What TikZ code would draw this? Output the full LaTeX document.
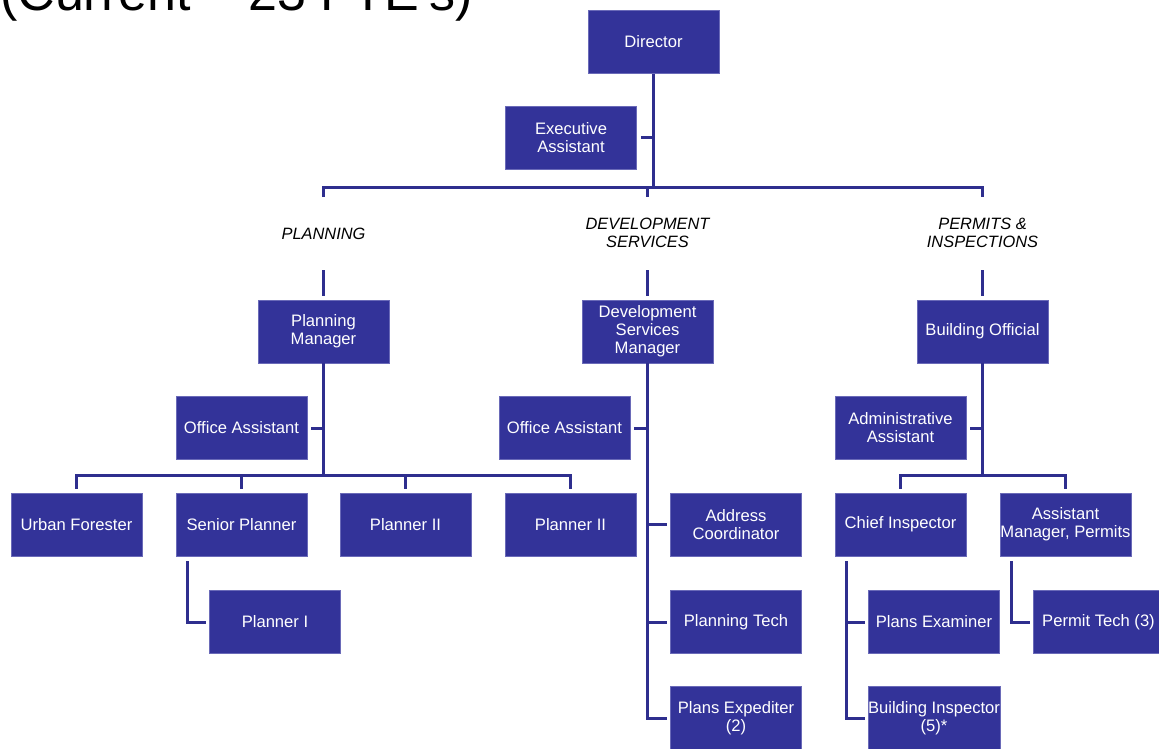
\documentclass[tikz,border=0pt]{standalone}
\usepackage{fontspec}
\setmainfont{Liberation Sans}
\definecolor{boxblue}{HTML}{333399}
\definecolor{boxedge}{HTML}{6A6AB8}
\definecolor{linkblue}{HTML}{2E2E8E}
\begin{document}
\begin{tikzpicture}[x=1pt,y=-1pt,
  box/.style={fill=boxblue, draw=boxedge, line width=0.8pt,
    minimum width=131pt, minimum height=63pt, inner sep=0pt,
    align=center, text=white, font=\fontsize{16.6}{18}\selectfont},
  link/.style={draw=linkblue, line width=3pt, line join=miter},
  unit/.style={inner sep=0pt, align=center,
    font=\fontsize{16.4}{18}\selectfont\itshape}]
\useasboundingbox (0,0) rectangle (1159,749);
\clip (0,0) rectangle (1159,749);

% heading, running off the top of the page
\node[anchor=base west, inner sep=0pt, font=\fontsize{52}{60}\selectfont]
  (title) at (0,11) {(Current – 23 FTE’s)};

% top level
\node[box] (dir) at (653.5,42) {Director};
\node[box] (ea) at (571,138) {Executive\\Assistant};

% divisions
\node[unit] (lp)  at (323.5,234) {PLANNING};
\node[unit] (lds) at (647.5,233) {DEVELOPMENT\\SERVICES};
\node[unit] (lpi) at (982.5,233) {PERMITS \&\\INSPECTIONS};

\node[box] (pm)  at (323.5,331.5) {Planning\\Manager};
\node[box] (dsm) at (647.5,331.5) {Development\\Services\\Manager};
\node[box] (bo)  at (982.5,331.5) {Building Official};

% planning
\node[box] (oa1) at (241.5,428) {Office Assistant};
\node[box] (uf)  at (76.5,524.5) {Urban Forester};
\node[box] (sp)  at (241.5,524.5) {Senior Planner};
\node[box] (p2a) at (405.5,524.5) {Planner II};
\node[box] (p2b) at (570.5,524.5) {Planner II};
\node[box] (p1)  at (275,622) {Planner I};

% development services
\node[box] (oa2) at (564.5,428) {Office Assistant};
\node[box] (ac)  at (736,524.5) {Address\\Coordinator};
\node[box] (pt)  at (736,622) {Planning Tech};
\node[box] (pe)  at (736,718) {Plans Expediter\\(2)};

% permits & inspections
\node[box] (aa)    at (900.5,428) {Administrative\\Assistant};
\node[box] (ci)    at (900.5,524.5) {Chief Inspector};
\node[box] (am)    at (1065.5,524.5) {Assistant\\Manager, Permits};
\node[box] (pex)   at (934,622) {Plans Examiner};
\node[box] (bi)    at (934,718) {Building Inspector\\(5)*};
\node[box] (ptech) at (1098.5,622) {Permit Tech (3)};

% director bus
\coordinate (busL) at (323.5,187);
\coordinate (busR) at (982.5,187);
\draw[link] (dir.south) -- (dir.south |- busL);
\draw[link, shorten <=4pt] (ea.east) -- (ea.east -| dir.south);
\draw[link] ([yshift=-10pt]busL) -- (busL) -- (busR) -- ([yshift=-10pt]busR);
\draw[link] (dsm.north |- busL) -- ++(0,10);

% ticks above the division heads
\foreach \n in {pm,dsm,bo}
  \draw[link] ([yshift=4pt]\n.north) -- ([yshift=30pt]\n.north);

% planning links
\coordinate (pbar) at (323.5,475);
\draw[link] (pm.south) -- (pbar);
\draw[link, shorten <=4pt] (oa1.east) -- (oa1.east -| pm.south);
\draw[link, shorten <=4pt, shorten >=4pt] (uf.north) |- (pbar) -| (p2b.north);
\draw[link, shorten >=4pt] (sp.north |- pbar) -- (sp.north);
\draw[link, shorten >=4pt] (p2a.north |- pbar) -- (p2a.north);
\coordinate (spL) at ([xshift=-54pt]sp.south);
\draw[link, shorten <=5pt, shorten >=3pt] (spL) |- (p1.west);

% development services links
\draw[link, shorten >=3pt] (dsm.south) |- (pe.west);
\draw[link, shorten <=4pt] (oa2.east) -- (oa2.east -| dsm.south);
\draw[link, shorten >=3pt] (dsm.south |- ac.west) -- (ac.west);
\draw[link, shorten >=3pt] (dsm.south |- pt.west) -- (pt.west);

% permits & inspections links
\coordinate (ibar) at (982.5,475);
\draw[link] (bo.south) -- (ibar);
\draw[link, shorten <=4pt] (aa.east) -- (aa.east -| bo.south);
\draw[link, shorten <=4pt, shorten >=4pt] (ci.north) |- (ibar) -| (am.north);
\coordinate (ciL) at ([xshift=-54pt]ci.south);
\draw[link, shorten <=5pt, shorten >=3pt] (ciL) |- (bi.west);
\draw[link, shorten >=3pt] (ciL |- pex.west) -- (pex.west);
\coordinate (amL) at ([xshift=-54pt]am.south);
\draw[link, shorten <=5pt, shorten >=3pt] (amL) |- (ptech.west);
\end{tikzpicture}
\end{document}
